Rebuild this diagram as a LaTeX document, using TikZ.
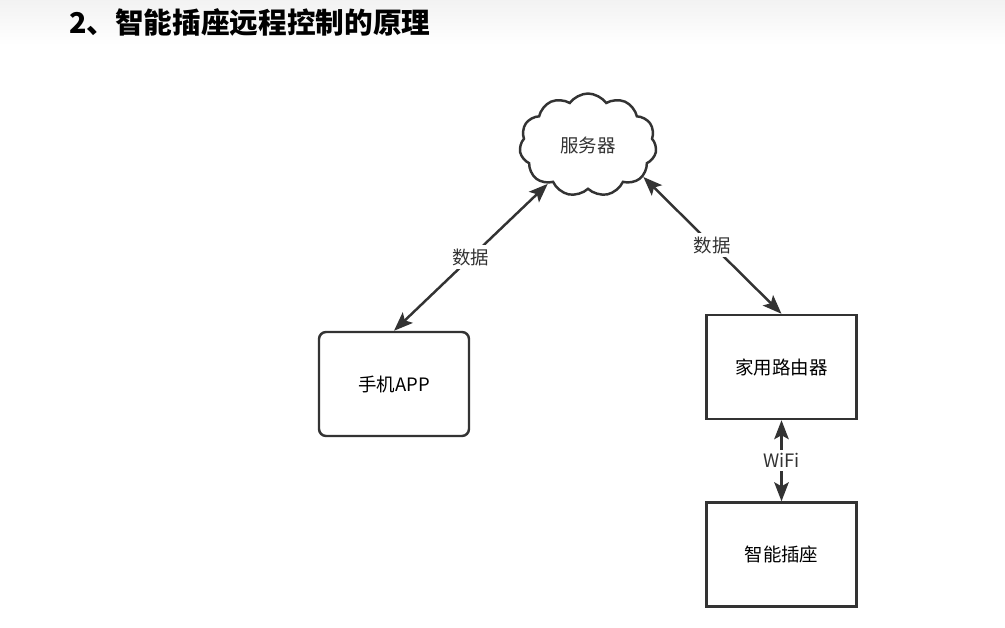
\documentclass[tikz,border=0pt]{standalone}
\usepackage{fontspec}
\setmainfont{Noto Sans CJK SC}
\usetikzlibrary{positioning, shapes.symbols, arrows.meta}

\begin{document}
\begin{tikzpicture}[
  x=0.02cm, y=-0.02cm,
  font=\fontsize{10.5}{12}\selectfont,
  >={Stealth[length=3.8mm,width=2.9mm,inset=0.8mm]},
  line/.style={draw=black!80, line width=1.4pt},
  box/.style={rectangle, line, minimum width=3cm, minimum height=2.08cm, inner sep=0pt},
  link/.style={line, <->},
  tag/.style={fill=white, inner sep=2pt, text=black!80},
]
\useasboundingbox (0,0) rectangle (1005,628);
\shade[top color=black!5, bottom color=white] (0,0) rectangle (1005,45);
\node[anchor=west, font=\fontsize{16.3}{19}\selectfont\bfseries] (title) at (63,22) {2、智能插座远程控制的原理};

\node[cloud, line, cloud puffs=11, cloud puff arc=110, aspect=1.35, minimum width=2.74cm, minimum height=2.06cm, text=black!80] (server) at (588,145) {服务器};
\node[box, rounded corners=4pt] (app) at (394,384) {手机APP};
\node[box] (router) at (781.5,367) {家用路由器};
\node[box] (plug) at (781.5,554.5) {智能插座};

\draw[link] (app.north) -- node[tag] {数据} (server.224);
\draw[link] (server.330) -- node[tag] {数据} (router.north);
\draw[link] (router) -- node[tag] {WiFi} (plug);
\end{tikzpicture}
\end{document}
